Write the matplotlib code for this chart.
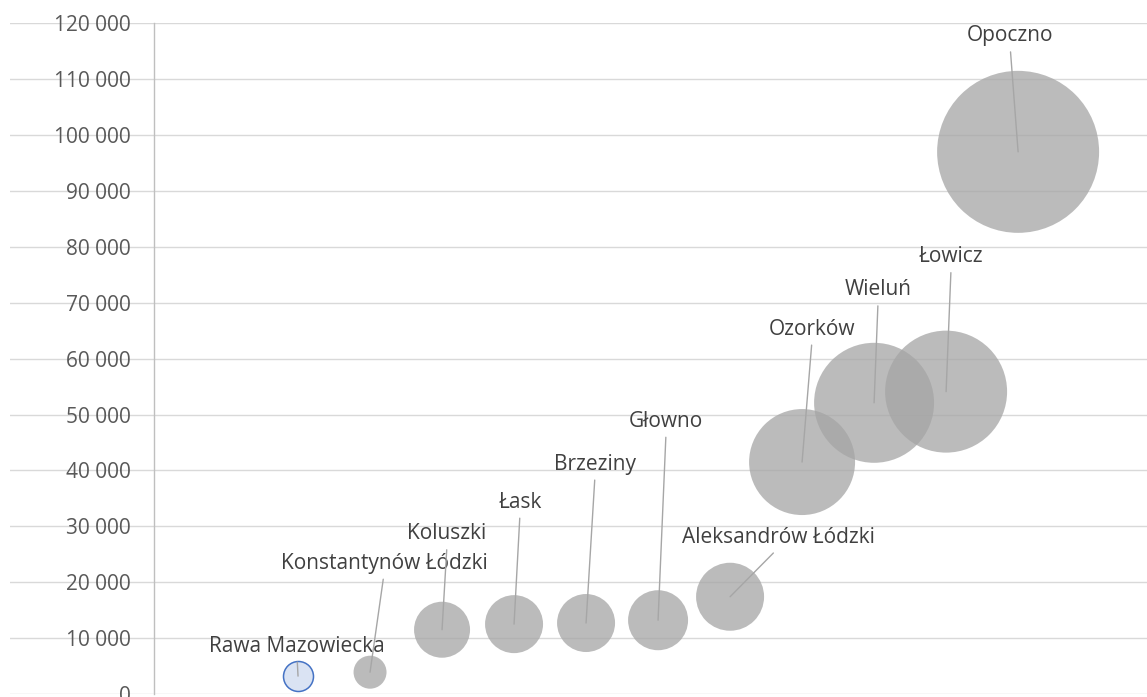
import matplotlib.pyplot as plt
from matplotlib.ticker import FuncFormatter, MultipleLocator

# dane
miasta = ["Rawa Mazowiecka", "Konstantynów Łódzki", "Koluszki", "Łask", "Brzeziny",
          "Głowno", "Aleksandrów Łódzki", "Ozorków", "Wieluń", "Łowicz", "Opoczno"]
x = [2, 3, 4, 5, 6, 7, 8, 9, 10, 11, 12]
y = [3200, 3900, 11500, 12500, 12700, 13200, 17400, 41500, 52100, 54100, 97000]
rozmiar = [225, 272, 784, 841, 841, 900, 1156, 2809, 3600, 3721, 6561]

# przesuniecia etykiet (piksele)
etykiety_dx = [-1, 14, 5, 6, 9, 8, 48, 10, 4, 5, -8]
etykiety_dy = [30, 109, 96, 122, 159, 199, 59, 133, 113, 135, 116]

plt.rcParams['font.family'] = ['Open Sans', 'DejaVu Sans']

fig = plt.figure(figsize=(11.47, 6.97), dpi=100)
ax = fig.add_axes([10 / 1147, 3 / 697, 1 - 10 / 1147, (697 - 23.3 - 3) / 697])

s = [2.0736 * v for v in rozmiar]
for i in range(len(x)):
    if i == 0:
        ax.scatter(x[i], y[i], s=s[i], c='#dae3f3', edgecolors='#4472c4',
                   linewidths=1.1, zorder=3)
    else:
        ax.scatter(x[i], y[i], s=s[i], c='#a5a5a5', alpha=0.75,
                   edgecolors='none', zorder=3)

for i, m in enumerate(miasta):
    ax.annotate(m, (x[i], y[i]), xytext=(etykiety_dx[i], etykiety_dy[i]),
                textcoords='offset pixels', ha='center', va='center',
                fontsize=15, color='#404040', zorder=5,
                arrowprops=dict(arrowstyle='-', color='#a6a6a6', lw=1.0,
                                relpos=(0.5, 0), shrinkA=2, shrinkB=0))

ax.set_xlim(-2, 13.79)
ax.set_ylim(0, 120000)
ax.yaxis.set_major_locator(MultipleLocator(10000))
ax.yaxis.set_major_formatter(FuncFormatter(lambda v, p: f"{int(v):,}".replace(",", " ")))
ax.set_xticks([])
ax.grid(axis='y', color='#d9d9d9', lw=1.0, zorder=0)
ax.set_axisbelow(True)
for k in ['top', 'right', 'bottom']:
    ax.spines[k].set_visible(False)
ax.spines['left'].set_position(('data', 0))
ax.spines['left'].set_color('#bfbfbf')
ax.spines['left'].set_linewidth(1.0)
ax.tick_params(axis='y', length=0, pad=16.5, labelsize=15, labelcolor='#595959')

fig.savefig('out.png', dpi=100)
